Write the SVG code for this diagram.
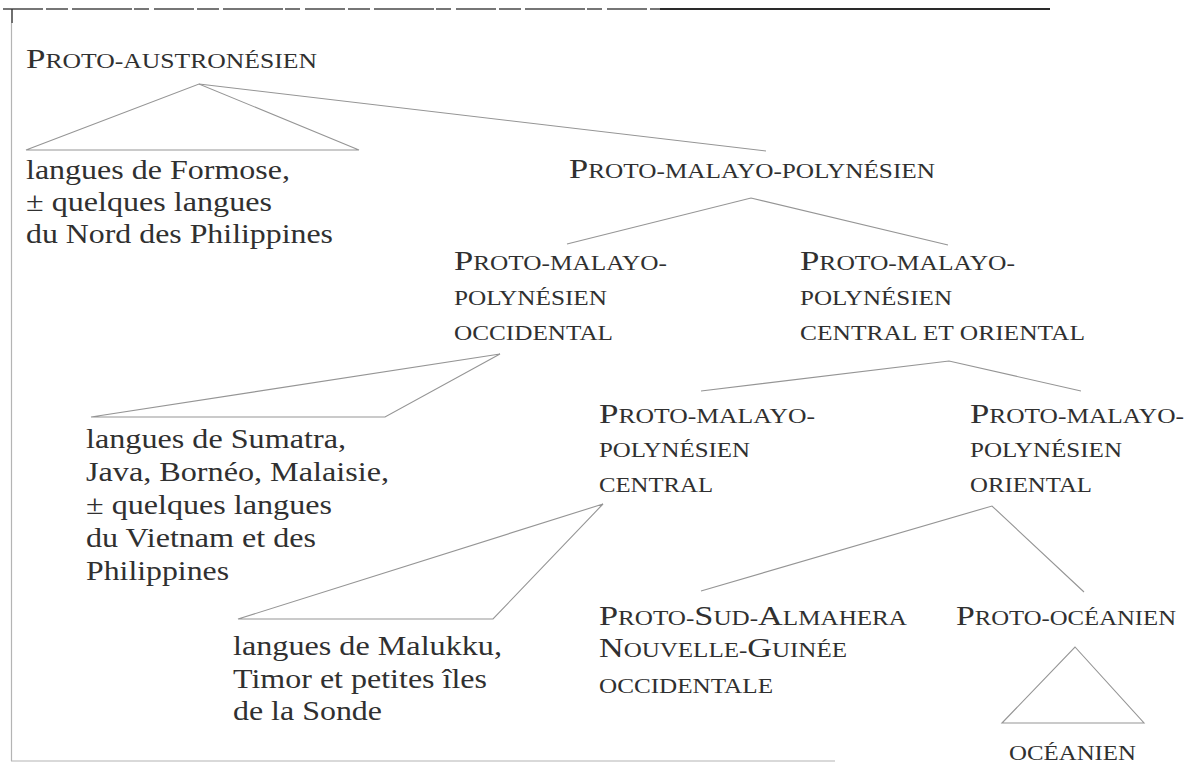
<svg xmlns="http://www.w3.org/2000/svg" width="1189" height="763" viewBox="0 0 1189 763">
<style>
text{font-family:"Liberation Serif","Times New Roman",serif;fill:#303030}
.h{font-size:28px}
.sc{font-size:20.5px}
.b{font-size:27px}
.ln{fill:none;stroke:#959595;stroke-width:1.1}
.frame{stroke:#b4b4b4;stroke-width:1.2;fill:none}
</style>
<rect width="1189" height="763" fill="#fff"/>
<g id="frame">
<line x1="3" y1="9" x2="660" y2="9" stroke="#4a4a4a" stroke-width="1.6" stroke-dasharray="40 3 22 4 60 2 15 5"/>
<line x1="660" y1="9" x2="1050" y2="9" stroke="#2a2a2a" stroke-width="2"/>
<line x1="12" y1="9" x2="12" y2="23" stroke="#333" stroke-width="1.4"/>
<line class="frame" x1="11.5" y1="23" x2="11.5" y2="761"/>
<line class="frame" x1="11" y1="761" x2="835" y2="761"/>
</g>
<g id="connectors">
<polygon class="ln" points="26,150 199,84 359,150"/>
<line class="ln" x1="199" y1="84" x2="766" y2="151"/>
<polyline class="ln" points="567,244 751,198 948,245"/>
<polygon class="ln" points="91,417 500,354 385,417"/>
<polyline class="ln" points="701,391 949,361 1081,391"/>
<polygon class="ln" points="238,619 603,504 493,619"/>
<polyline class="ln" points="701,591 992,506 1084,592"/>
<polygon class="ln" points="1002,723 1075,647 1144,723"/>
</g>
<g id="n-proto-austronesien">
<text x="26" y="68" textLength="291" lengthAdjust="spacingAndGlyphs"><tspan class="h">P</tspan><tspan class="sc">ROTO-AUSTRONÉSIEN</tspan></text>
</g>
<g id="n-formose">
<text class="b" x="26" y="179" textLength="264" lengthAdjust="spacingAndGlyphs">langues de Formose,</text>
<text class="b" x="26" y="211" textLength="246" lengthAdjust="spacingAndGlyphs">± quelques langues</text>
<text class="b" x="26" y="243" textLength="307" lengthAdjust="spacingAndGlyphs">du Nord des Philippines</text>
</g>
<g id="n-pmp">
<text x="569" y="178" textLength="366" lengthAdjust="spacingAndGlyphs"><tspan class="h">P</tspan><tspan class="sc">ROTO-MALAYO-POLYNÉSIEN</tspan></text>
</g>
<g id="n-pmp-occidental">
<text x="454" y="270" textLength="213" lengthAdjust="spacingAndGlyphs"><tspan class="h">P</tspan><tspan class="sc">ROTO-MALAYO-</tspan></text>
<text class="sc" x="454" y="305" textLength="153" lengthAdjust="spacingAndGlyphs">POLYNÉSIEN</text>
<text class="sc" x="454" y="340" textLength="159" lengthAdjust="spacingAndGlyphs">OCCIDENTAL</text>
</g>
<g id="n-pmp-central-oriental">
<text x="800" y="270" textLength="215" lengthAdjust="spacingAndGlyphs"><tspan class="h">P</tspan><tspan class="sc">ROTO-MALAYO-</tspan></text>
<text class="sc" x="800" y="305" textLength="152" lengthAdjust="spacingAndGlyphs">POLYNÉSIEN</text>
<text class="sc" x="800" y="340" textLength="285" lengthAdjust="spacingAndGlyphs">CENTRAL ET ORIENTAL</text>
</g>
<g id="n-sumatra">
<text class="b" x="86" y="448" textLength="260" lengthAdjust="spacingAndGlyphs">langues de Sumatra,</text>
<text class="b" x="86" y="481" textLength="303" lengthAdjust="spacingAndGlyphs">Java, Bornéo, Malaisie,</text>
<text class="b" x="86" y="514" textLength="246" lengthAdjust="spacingAndGlyphs">± quelques langues</text>
<text class="b" x="86" y="547" textLength="230" lengthAdjust="spacingAndGlyphs">du Vietnam et des</text>
<text class="b" x="86" y="580" textLength="143" lengthAdjust="spacingAndGlyphs">Philippines</text>
</g>
<g id="n-pmp-central">
<text x="599" y="423" textLength="216" lengthAdjust="spacingAndGlyphs"><tspan class="h">P</tspan><tspan class="sc">ROTO-MALAYO-</tspan></text>
<text class="sc" x="599" y="457" textLength="151" lengthAdjust="spacingAndGlyphs">POLYNÉSIEN</text>
<text class="sc" x="599" y="492" textLength="114" lengthAdjust="spacingAndGlyphs">CENTRAL</text>
</g>
<g id="n-pmp-oriental">
<text x="970" y="423" textLength="214" lengthAdjust="spacingAndGlyphs"><tspan class="h">P</tspan><tspan class="sc">ROTO-MALAYO-</tspan></text>
<text class="sc" x="970" y="457" textLength="152" lengthAdjust="spacingAndGlyphs">POLYNÉSIEN</text>
<text class="sc" x="970" y="492" textLength="122" lengthAdjust="spacingAndGlyphs">ORIENTAL</text>
</g>
<g id="n-malukku">
<text class="b" x="233" y="655" textLength="269" lengthAdjust="spacingAndGlyphs">langues de Malukku,</text>
<text class="b" x="233" y="688" textLength="254" lengthAdjust="spacingAndGlyphs">Timor et petites îles</text>
<text class="b" x="233" y="720" textLength="149" lengthAdjust="spacingAndGlyphs">de la Sonde</text>
</g>
<g id="n-sud-almahera">
<text x="599" y="625" textLength="308" lengthAdjust="spacingAndGlyphs"><tspan class="h">P</tspan><tspan class="sc">ROTO-</tspan><tspan class="h">S</tspan><tspan class="sc">UD-</tspan><tspan class="h">A</tspan><tspan class="sc">LMAHERA</tspan></text>
<text x="599" y="657" textLength="248" lengthAdjust="spacingAndGlyphs"><tspan class="h">N</tspan><tspan class="sc">OUVELLE-</tspan><tspan class="h">G</tspan><tspan class="sc">UINÉE</tspan></text>
<text class="sc" x="599" y="693" textLength="174" lengthAdjust="spacingAndGlyphs">OCCIDENTALE</text>
</g>
<g id="n-proto-oceanien">
<text x="956" y="625" textLength="220" lengthAdjust="spacingAndGlyphs"><tspan class="h">P</tspan><tspan class="sc">ROTO-OCÉANIEN</tspan></text>
</g>
<g id="n-oceanien">
<text class="sc" x="1009" y="760" textLength="127" lengthAdjust="spacingAndGlyphs">OCÉANIEN</text>
</g>
</svg>
